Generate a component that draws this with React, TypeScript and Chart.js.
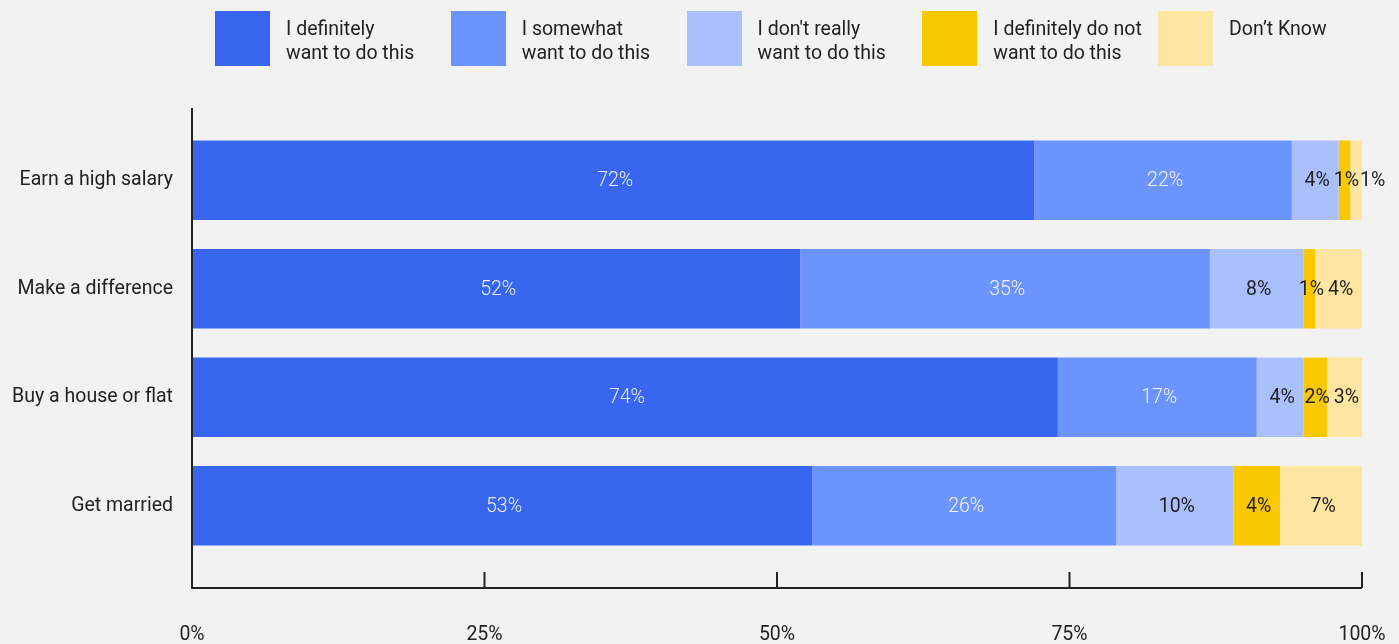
import React, { useEffect, useRef } from "react";
import { Chart, registerables } from "chart.js";

Chart.register(...registerables);

const categories = ["Earn a high salary", "Make a difference", "Buy a house or flat", "Get married"];
const seriesNames = [
  ["I definitely", "want to do this"],
  ["I somewhat", "want to do this"],
  ["I don't really", "want to do this"],
  ["I definitely do not", "want to do this"],
  ["Don\u2019t Know"],
];
const definitelyWant = [72, 52, 74, 53];
const somewhatWant = [22, 35, 17, 26];
const dontReallyWant = [4, 8, 4, 10];
const definitelyNot = [1, 1, 2, 4];
const dontKnow = [1, 4, 3, 7];
const seriesValues = [definitelyWant, somewhatWant, dontReallyWant, definitelyNot, dontKnow];
const seriesColors = ["#3866F0", "#6B94FC", "#AAC0FD", "#F9C800", "#FEE6A2"];
const labelColors = ["rgba(255,255,255,0.9)", "rgba(255,255,255,0.9)", "#222", "#222", "#222"];
const labelWeights = [300, 300, 400, 400, 400];
const xTicks = [0, 25, 50, 75, 100];

const FONT = "Roboto, 'Noto Sans', sans-serif";
const FS = 19.5;

const valueLabels = {
  id: "valueLabels",
  afterDatasetsDraw(chart: any) {
    const ctx = chart.ctx;
    ctx.save();
    ctx.textAlign = "center";
    ctx.textBaseline = "middle";
    const n = chart.data.labels.length;
    for (let j = 0; j < n; j++) {
      let prevRight = -Infinity;
      chart.data.datasets.forEach((ds: any, i: number) => {
        const bar: any = chart.getDatasetMeta(i).data[j];
        const left = Math.min(bar.x, bar.base);
        const right = Math.max(bar.x, bar.base);
        const text = ds.data[j] + "%";
        ctx.font = `${labelWeights[i]} ${FS}px ${FONT}`;
        const w = ctx.measureText(text).width;
        let cx = (left + right) / 2 + 2;
        if (cx - w / 2 < prevRight + 1) cx = prevRight + 1 + w / 2;
        prevRight = cx + w / 2;
        ctx.fillStyle = labelColors[i];
        ctx.fillText(text, cx, bar.y + 1);
      });
    }
    ctx.restore();
  },
};

const axisLines = {
  id: "axisLines",
  afterDraw(chart: any) {
    const ctx = chart.ctx;
    const xs = chart.scales.x;
    const area = chart.chartArea;
    const x0 = xs.getPixelForValue(0);
    const x1 = xs.getPixelForValue(100);
    const yAxis = area.bottom + 28;
    ctx.save();
    ctx.strokeStyle = "#222";
    ctx.lineWidth = 2;
    ctx.beginPath();
    ctx.moveTo(x0, area.top - 18);
    ctx.lineTo(x0, yAxis);
    ctx.lineTo(x1, yAxis);
    ctx.stroke();
    xTicks.forEach((t) => {
      const px = xs.getPixelForValue(t);
      ctx.beginPath();
      ctx.moveTo(px, yAxis - 16);
      ctx.lineTo(px, yAxis);
      ctx.stroke();
    });
    ctx.restore();
  },
};

function App() {
  const ref = useRef<HTMLCanvasElement | null>(null);

  useEffect(() => {
    document.body.style.margin = "0";
    if (!ref.current) return;
    const chart = new Chart(ref.current, {
      type: "bar",
      data: {
        labels: categories,
        datasets: seriesValues.map((vals, i) => ({
          label: seriesNames[i].join(" "),
          data: vals,
          backgroundColor: seriesColors[i],
          borderWidth: 0,
          categoryPercentage: 1,
          barPercentage: 0.735,
        })),
      },
      options: {
        indexAxis: "y",
        animation: false,
        responsive: false,
        maintainAspectRatio: false,
        layout: { padding: { top: 126, right: 37, bottom: 0, left: 0 } },
        plugins: {
          legend: { display: false },
          tooltip: { enabled: false },
        },
        scales: {
          x: {
            stacked: true,
            min: 0,
            max: 100,
            grid: { display: false, drawTicks: false },
            border: { display: false },
            afterFit: (scale: any) => {
              scale.height = 84;
              scale.paddingLeft = 0;
              scale.paddingRight = 0;
            },
            ticks: {
              stepSize: 25,
              padding: 63,
              color: "#222",
              font: { family: FONT, size: FS },
              callback: (v: any) => v + "%",
            },
          },
          y: {
            stacked: true,
            grid: { display: false, drawTicks: false },
            border: { display: false },
            afterFit: (scale: any) => {
              scale.width = 192;
            },
            ticks: {
              padding: 19,
              color: "#222",
              font: { family: FONT, size: FS },
            },
          },
        },
      },
      plugins: [valueLabels, axisLines],
    });
    return () => chart.destroy();
  }, []);

  return (
    <div style={{ position: "relative", width: 1399, height: 644, background: "#F2F2F2", overflow: "hidden" }}>
      <canvas ref={ref} width={1399} height={644} style={{ position: "absolute", left: 0, top: 0 }} />
      {seriesNames.map((name, i) => (
        <div
          key={i}
          style={{
            position: "absolute",
            left: 215 + i * 235.75,
            top: 11,
            display: "flex",
            alignItems: "flex-start",
            fontFamily: FONT,
            fontSize: FS,
            lineHeight: "24px",
            color: "#222",
          }}
        >
          <div style={{ width: 55, height: 55, background: seriesColors[i], flex: "none" }} />
          <div style={{ marginLeft: 16, marginTop: 6, whiteSpace: "nowrap" }}>
            {name.map((line, k) => (
              <div key={k}>{line}</div>
            ))}
          </div>
        </div>
      ))}
    </div>
  );
}

export default App;
